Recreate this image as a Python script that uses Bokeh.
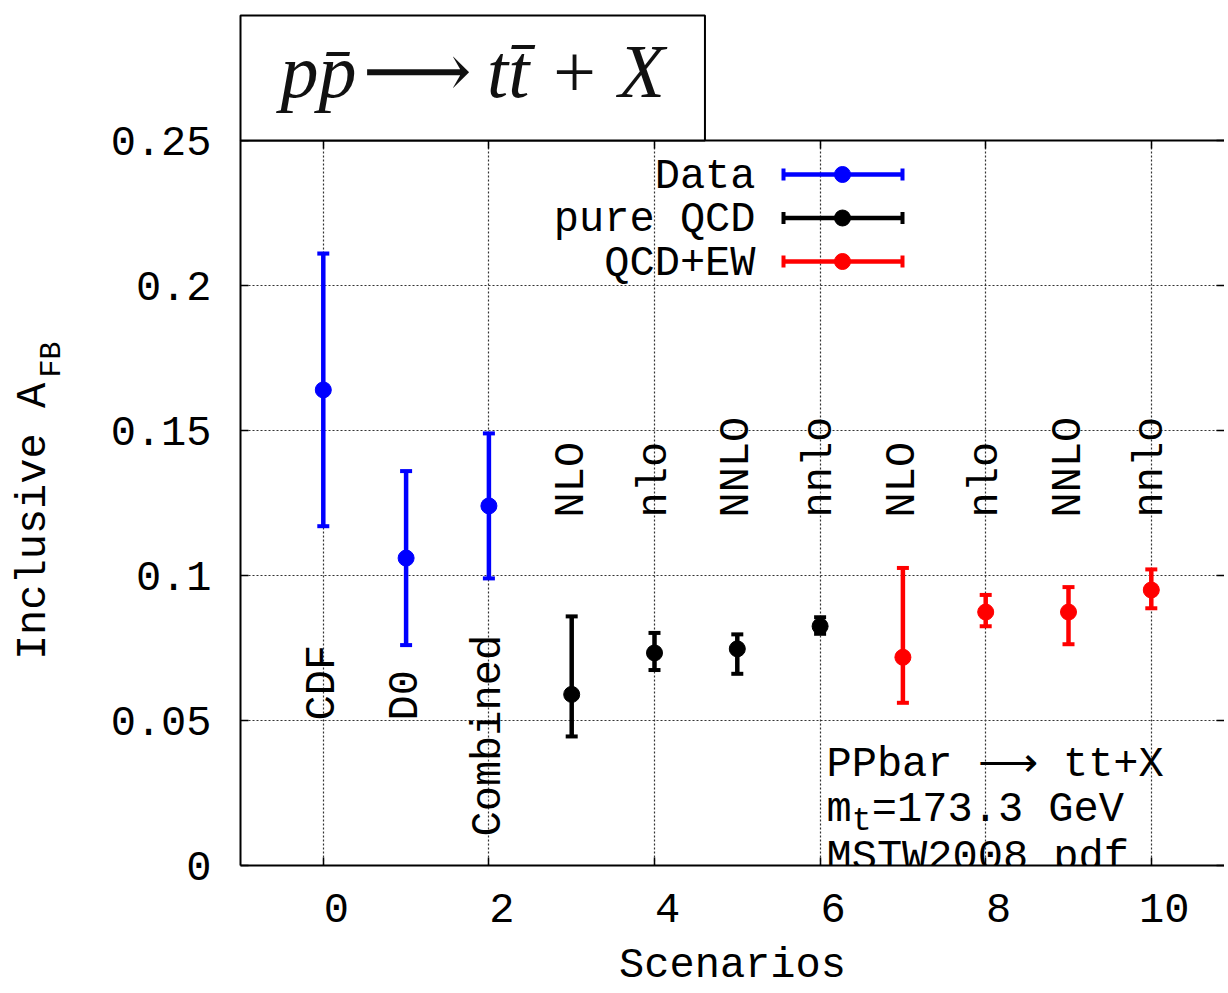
from bokeh.plotting import figure
from bokeh.models import (Range1d, FixedTicker, LinearAxis, Whisker, TeeHead,
                          ColumnDataSource, Label, LabelSet, Title)
from bokeh.core.properties import value
from bokeh.embed import file_html
from bokeh.resources import INLINE

# ---------------- data ----------------
data_x = [0, 1, 2]
data_y = [0.164, 0.106, 0.124]
data_lo = [0.117, 0.076, 0.099]
data_hi = [0.211, 0.136, 0.149]
data_names = ["CDF", "D0", "Combined"]
data_name_y = [0.05, 0.05, 0.01]

qcd_x = [3, 4, 5, 6]
qcd_y = [0.059, 0.0733, 0.0747, 0.0825]
qcd_lo = [0.0445, 0.0674, 0.0661, 0.0799]
qcd_hi = [0.0859, 0.0802, 0.0797, 0.0856]

ew_x = [7, 8, 9, 10]
ew_y = [0.0718, 0.0874, 0.0874, 0.0950]
ew_lo = [0.0561, 0.0825, 0.0763, 0.0887]
ew_hi = [0.1026, 0.0933, 0.0960, 0.1021]

order_x = [3, 4, 5, 6, 7, 8, 9, 10]
order_names = ["NLO", "nlo", "NNLO", "nnlo", "NLO", "nlo", "NNLO", "nnlo"]
order_name_y = [0.12] * 8

series_names = ["Data", "pure QCD", "QCD+EW"]
series_colors = ["#0000ff", "#000000", "#ff0000"]

x_ticks = [0, 2, 4, 6, 8, 10]
x_tick_labels = ["0", "2", "4", "6", "8", "10"]
y_ticks = [0, 0.05, 0.1, 0.15, 0.2, 0.25]
y_tick_labels = ["0", "0.05", "0.1", "0.15", "0.2", "0.25"]

title_text = "pp\u0304\u200a\u27f6\u2009tt\u0304 + X"
x_title = "Scenarios"
y_title = "Inclusive A"
y_title_sub = "FB"
info_line1 = "PPbar \u27f6 tt+X"
info_m, info_sub, info_rest = "m", "t", "=173.3 GeV"
info_line3 = "MSTW2008 pdf"

# ---------------- layout constants ----------------
FONT = "Liberation Mono"
FS = 42
W, H = 1224, 992
ML, MT, MB = 240, 140, H - 865
X0 = -1.0
PXX = 82.8          # px per x unit
X1 = X0 + (W - ML) / PXX
Y0, Y1 = 0.0, 0.25
PXY = 2900.0        # px per y unit
SHIFT = 13          # x tick labels sit 13 px right of their ticks


def xd(px):
    return X0 + (px - ML) / PXX


def yd(py):
    return (MT + (Y1 - Y0) * PXY - py) / PXY


p = figure(width=W, height=H, x_range=Range1d(X0, X1), y_range=Range1d(Y0, Y1),
           output_backend="svg", toolbar_location=None,
           min_border_left=ML, min_border_top=MT, min_border_bottom=MB,
           min_border_right=0)
p.outline_line_color = None
p.background_fill_color = "white"
p.extra_x_ranges = {"lab": Range1d(X0 - SHIFT / PXX, X1 - SHIFT / PXX)}

# bottom: ticks only
xa = p.xaxis[0]
xa.ticker = FixedTicker(ticks=[], minor_ticks=x_ticks)
xa.minor_tick_in = 8
xa.minor_tick_out = 0
xa.minor_tick_line_width = 1.5
xa.minor_tick_line_color = "black"
xa.major_label_standoff = 0
xa.axis_line_width = 2
xa.axis_line_color = "black"

# bottom: labels (shifted range)
xl = LinearAxis(x_range_name="lab", ticker=FixedTicker(ticks=x_ticks),
                major_label_overrides={t: l for t, l in zip(x_ticks, x_tick_labels)},
                major_tick_line_color=None, minor_tick_line_color=None,
                axis_line_color=None, major_label_standoff=22,
                major_label_text_font=FONT, major_label_text_font_size=f"{FS}px",
                major_label_text_color="black",
                axis_label=x_title, axis_label_text_font=FONT,
                axis_label_text_font_size=f"{FS}px", axis_label_text_font_style="normal",
                axis_label_text_color="black", axis_label_standoff=17)
p.add_layout(xl, "below")

# left axis
ya = p.yaxis[0]
ya.ticker = FixedTicker(ticks=y_ticks)
ya.major_label_overrides = {t: l for t, l in zip(y_ticks, y_tick_labels)}
ya.major_label_text_font = FONT
ya.major_label_text_font_size = f"{FS}px"
ya.major_label_text_color = "black"
ya.major_label_standoff = 29
ya.major_tick_in = 8
ya.major_tick_out = 0
ya.major_tick_line_width = 1.5
ya.minor_tick_line_color = None
ya.axis_line_width = 2
ya.axis_line_color = "black"

# y title: subscript part, then main part (axes used as positioned text holders)
y_sub_pos = yd(359)
y_main_pos = yd(521)
ysub = LinearAxis(ticker=FixedTicker(ticks=[y_sub_pos]),
                  major_label_overrides={y_sub_pos: y_title_sub},
                  major_label_orientation="vertical",
                  major_tick_line_color=None, minor_tick_line_color=None,
                  axis_line_color=None, major_label_standoff=33,
                  major_label_text_font=FONT, major_label_text_font_size=f"{int(FS*0.72)}px",
                  major_label_text_color="black")
p.add_layout(ysub, "left")
ymain = LinearAxis(ticker=FixedTicker(ticks=[y_main_pos]),
                   major_label_overrides={y_main_pos: y_title},
                   major_label_orientation="vertical",
                   major_tick_line_color=None, minor_tick_line_color=None,
                   axis_line_color=None, major_label_standoff=-32,
                   major_label_text_font=FONT, major_label_text_font_size=f"{FS}px",
                   major_label_text_color="black")
p.add_layout(ymain, "left")

# top and right: ticks only
top = LinearAxis(ticker=FixedTicker(ticks=[], minor_ticks=x_ticks),
                 minor_tick_in=8, minor_tick_out=0, minor_tick_line_width=1.5,
                 minor_tick_line_color="black", axis_line_width=2,
                 axis_line_color="black", major_label_standoff=0)
p.add_layout(top, "above")
right = LinearAxis(ticker=FixedTicker(ticks=[], minor_ticks=y_ticks),
                   minor_tick_in=8, minor_tick_out=0, minor_tick_line_width=1.5,
                   minor_tick_line_color="black", axis_line_color=None,
                   major_label_standoff=0)
p.add_layout(right, "right")

# grid
p.xgrid.ticker = FixedTicker(ticks=x_ticks)
p.ygrid.ticker = FixedTicker(ticks=y_ticks)
for g in (p.xgrid, p.ygrid):
    g.grid_line_color = "#333333"
    g.grid_line_dash = "2 2"
    g.grid_line_width = 1.2

# title box
t = Title(text=title_text, align="left", offset=0, standoff=0,
          text_font="'Liberation Serif', 'DejaVu Serif', 'DejaVu Sans'",
          text_font_style="italic", text_font_size="76px", text_color="#111111")
props = t.properties()
if "border_line_color" in props:
    t.border_line_color = "black"
    t.border_line_width = 2
    t.background_fill_color = "white"
if "padding" in props:
    t.padding = dict(left=40, right=40, top=13, bottom=28)
p.title = t

# series
for xs, ys, lo, hi, c in ((data_x, data_y, data_lo, data_hi, series_colors[0]),
                          (qcd_x, qcd_y, qcd_lo, qcd_hi, series_colors[1]),
                          (ew_x, ew_y, ew_lo, ew_hi, series_colors[2])):
    src = ColumnDataSource(dict(x=xs, y=ys, lo=lo, hi=hi))
    p.add_layout(Whisker(base="x", lower="lo", upper="hi", source=src, line_color=c,
                         line_width=4.5, level="glyph",
                         upper_head=TeeHead(size=12, line_color=c, line_width=4),
                         lower_head=TeeHead(size=12, line_color=c, line_width=4)))
    p.scatter("x", "y", source=src, size=16, color=c)

# category labels
name_src = ColumnDataSource(dict(x=data_x + order_x, y=data_name_y + order_name_y,
                                 t=data_names + order_names))
p.add_layout(LabelSet(x="x", y="y", text="t", source=name_src, angle=1.5707963,
                      text_font=value(FONT), text_font_size=value(f"{FS}px"),
                      text_align="left", text_baseline="middle", text_color="black"))

# legend (manual, gnuplot style)
leg_rows_px = [174, 217.5, 261]
leg_x0, leg_x1, leg_xc, leg_txt = xd(783), xd(902), xd(842), xd(755)
for i, c in enumerate(series_colors):
    s = ColumnDataSource(dict(y=[yd(leg_rows_px[i])], a=[leg_x0], b=[leg_x1], xc=[leg_xc]))
    p.add_layout(Whisker(base="y", lower="a", upper="b", dimension="width", source=s,
                         line_color=c, line_width=4.5, level="glyph",
                         upper_head=TeeHead(size=12, line_color=c, line_width=4),
                         lower_head=TeeHead(size=12, line_color=c, line_width=4)))
    p.scatter("xc", "y", source=s, size=16, color=c)
leg_src = ColumnDataSource(dict(y=[yd(v + 13) for v in leg_rows_px], t=series_names))
p.add_layout(LabelSet(x=leg_txt, y="y", text="t", source=leg_src, text_font=value(FONT),
                      text_font_size=value(f"{FS}px"), text_align="right",
                      text_baseline="alphabetic", text_color="black"))

# info text block
ch = 0.6 * FS
ix = xd(826)
common = dict(text_font=FONT, text_font_size=f"{FS}px", text_baseline="alphabetic",
              text_color="black")
p.add_layout(Label(x=ix, y=yd(764), text=info_line1, **common))
p.add_layout(Label(x=ix, y=yd(809), text=info_m, **common))
p.add_layout(Label(x=ix, x_offset=ch, y=yd(809), y_offset=-12, text=info_sub,
                   text_font=FONT, text_font_size=f"{int(FS*0.8)}px",
                   text_baseline="alphabetic", text_color="black"))
p.add_layout(Label(x=ix, x_offset=ch + 0.8 * ch, y=yd(809), text=info_rest, **common))
p.add_layout(Label(x=ix, y=yd(857), text=info_line3, **common))

open("out.html", "w").write(file_html(p, INLINE))
